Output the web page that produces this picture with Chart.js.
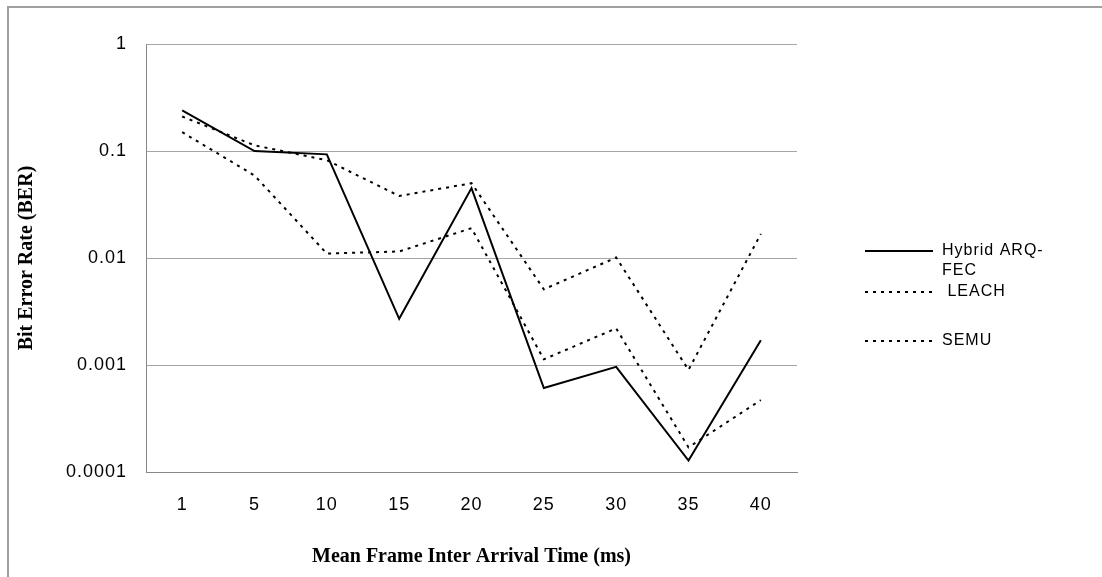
<!DOCTYPE html>
<html>
<head>
<meta charset="utf-8">
<title>BER vs Mean Frame Inter Arrival Time</title>
<script src="https://cdn.jsdelivr.net/npm/chart.js@4.4.1/dist/chart.umd.min.js"></script>
<style>
    html, body { margin: 0; padding: 0; background: #ffffff; }
    #wrap { width: 1102px; height: 577px; position: relative; }
</style>
</head>
<body>
<div id="wrap"><canvas id="berChart" width="1102" height="577"></canvas></div>
<script>
// --- Data --- //
const categories = ['1', '5', '10', '15', '20', '25', '30', '35', '40'];
const seriesNames = ['Hybrid ARQ-FEC', ' LEACH', 'SEMU'];
const hybridBer = [0.24, 0.1, 0.093, 0.0027, 0.045, 0.00061, 0.00096, 0.000128, 0.0017];
const leachBer = [0.21, 0.113, 0.082, 0.038, 0.05, 0.0051, 0.0101, 0.0009, 0.0168];
const semuBer = [0.15, 0.059, 0.011, 0.0115, 0.019, 0.00113, 0.0022, 0.00017, 0.00047];
const yTicks = [1, 0.1, 0.01, 0.001, 0.0001];

const xTitle = 'Mean Frame Inter Arrival Time (ms)';
const yTitle = 'Bit Error Rate (BER)';

const sansFont = '"Liberation Sans", Arial, sans-serif';
const titleFont = 'bold 20px "Liberation Serif", "Times New Roman", serif';

// Outer frame (only top and left edges show) + spaced-out tick lettering
const framePlugin = {
    id: 'frame',
    beforeDraw(chart) {
        const ctx = chart.ctx;
        ctx.save();
        ctx.fillStyle = '#ffffff';
        ctx.fillRect(0, 0, chart.width, chart.height);
        ctx.strokeStyle = '#a0a0a0';
        ctx.lineWidth = 2;
        ctx.beginPath();
        ctx.moveTo(8, chart.height + 5);
        ctx.lineTo(8, 7);
        ctx.lineTo(chart.width + 5, 7);
        ctx.stroke();
        ctx.restore();
        // tick labels in the original are loosely spaced
        ctx.letterSpacing = '1px';
    },
    afterDatasetsDraw(chart) {
        chart.ctx.letterSpacing = '0px';
    }
};

// Axis titles drawn here so the tick spacing doesn't touch them
const titlesPlugin = {
    id: 'axisTitles',
    afterDraw(chart) {
        const ctx = chart.ctx;
        const area = chart.chartArea;
        ctx.save();
        ctx.letterSpacing = '0px';
        ctx.font = titleFont;
        ctx.fillStyle = '#000000';
        ctx.textAlign = 'center';
        ctx.textBaseline = 'middle';
        ctx.fillText(xTitle, (area.left + area.right) / 2, 557);
        ctx.translate(27, (area.top + area.bottom) / 2);
        ctx.rotate(-Math.PI / 2);
        ctx.fillText(yTitle, 0, 0);
        ctx.restore();
    }
};

// Legend drawn by hand so the long label wraps like the original
const legendPlugin = {
    id: 'sideLegend',
    afterDraw(chart) {
        const ctx = chart.ctx;
        const rows = [251, 292, 341];
        const x0 = 865, x1 = 933, textX = 942;
        ctx.save();
        ctx.font = '16px ' + sansFont;
        ctx.letterSpacing = '1px';
        ctx.textBaseline = 'middle';
        ctx.fillStyle = '#000000';
        chart.data.datasets.forEach((ds, i) => {
            const y = rows[i];
            ctx.strokeStyle = ds.borderColor;
            ctx.lineWidth = ds.borderWidth;
            ctx.setLineDash(ds.borderDash || []);
            ctx.beginPath();
            ctx.moveTo(x0, y);
            ctx.lineTo(x1, y);
            ctx.stroke();
            ctx.setLineDash([]);
            // wrap after a hyphen when the label gets long
            let lines = [ds.label];
            if (ctx.measureText(ds.label).width > 110 && ds.label.includes('-')) {
                const cut = ds.label.indexOf('-') + 1;
                lines = [ds.label.slice(0, cut), ds.label.slice(cut)];
            }
            lines.forEach((t, k) => ctx.fillText(t, textX, y + k * 20));
        });
        ctx.restore();
    }
};

const ctx = document.getElementById('berChart').getContext('2d');

new Chart(ctx, {
    type: 'line',
    data: {
        labels: categories,
        datasets: [
            {
                label: seriesNames[0],
                data: hybridBer,
                borderColor: '#000000',
                borderWidth: 2,
                pointRadius: 0,
                tension: 0
            },
            {
                label: seriesNames[1],
                data: leachBer,
                borderColor: '#000000',
                borderWidth: 2,
                borderDash: [3, 5],
                pointRadius: 0,
                tension: 0
            },
            {
                label: seriesNames[2],
                data: semuBer,
                borderColor: '#000000',
                borderWidth: 2,
                borderDash: [3, 5],
                pointRadius: 0,
                tension: 0
            }
        ]
    },
    options: {
        responsive: false,
        animation: false,
        devicePixelRatio: 1,
        layout: { padding: { top: 44, right: 305, left: 0, bottom: 0 } },
        plugins: {
            legend: { display: false },
            tooltip: { enabled: false }
        },
        scales: {
            x: {
                type: 'category',
                offset: true,
                grid: { display: false, drawTicks: false },
                border: { display: true, color: '#888888', width: 1 },
                ticks: {
                    color: '#000000',
                    padding: 22,
                    font: { family: sansFont, size: 18 }
                },
                afterFit(scale) { scale.height = 105; }
            },
            y: {
                type: 'logarithmic',
                min: 0.0001,
                max: 1,
                grid: { color: '#a6a6a6', lineWidth: 1, drawTicks: false },
                border: { display: true, color: '#888888', width: 1 },
                afterBuildTicks(scale) {
                    scale.ticks = yTicks.map(v => ({ value: v }));
                },
                ticks: {
                    color: '#000000',
                    padding: 19,
                    font: { family: sansFont, size: 18 },
                    callback: (v) => String(v)
                },
                afterFit(scale) { scale.width = 146; }
            }
        }
    },
    plugins: [framePlugin, titlesPlugin, legendPlugin]
});
</script>
</body>
</html>
